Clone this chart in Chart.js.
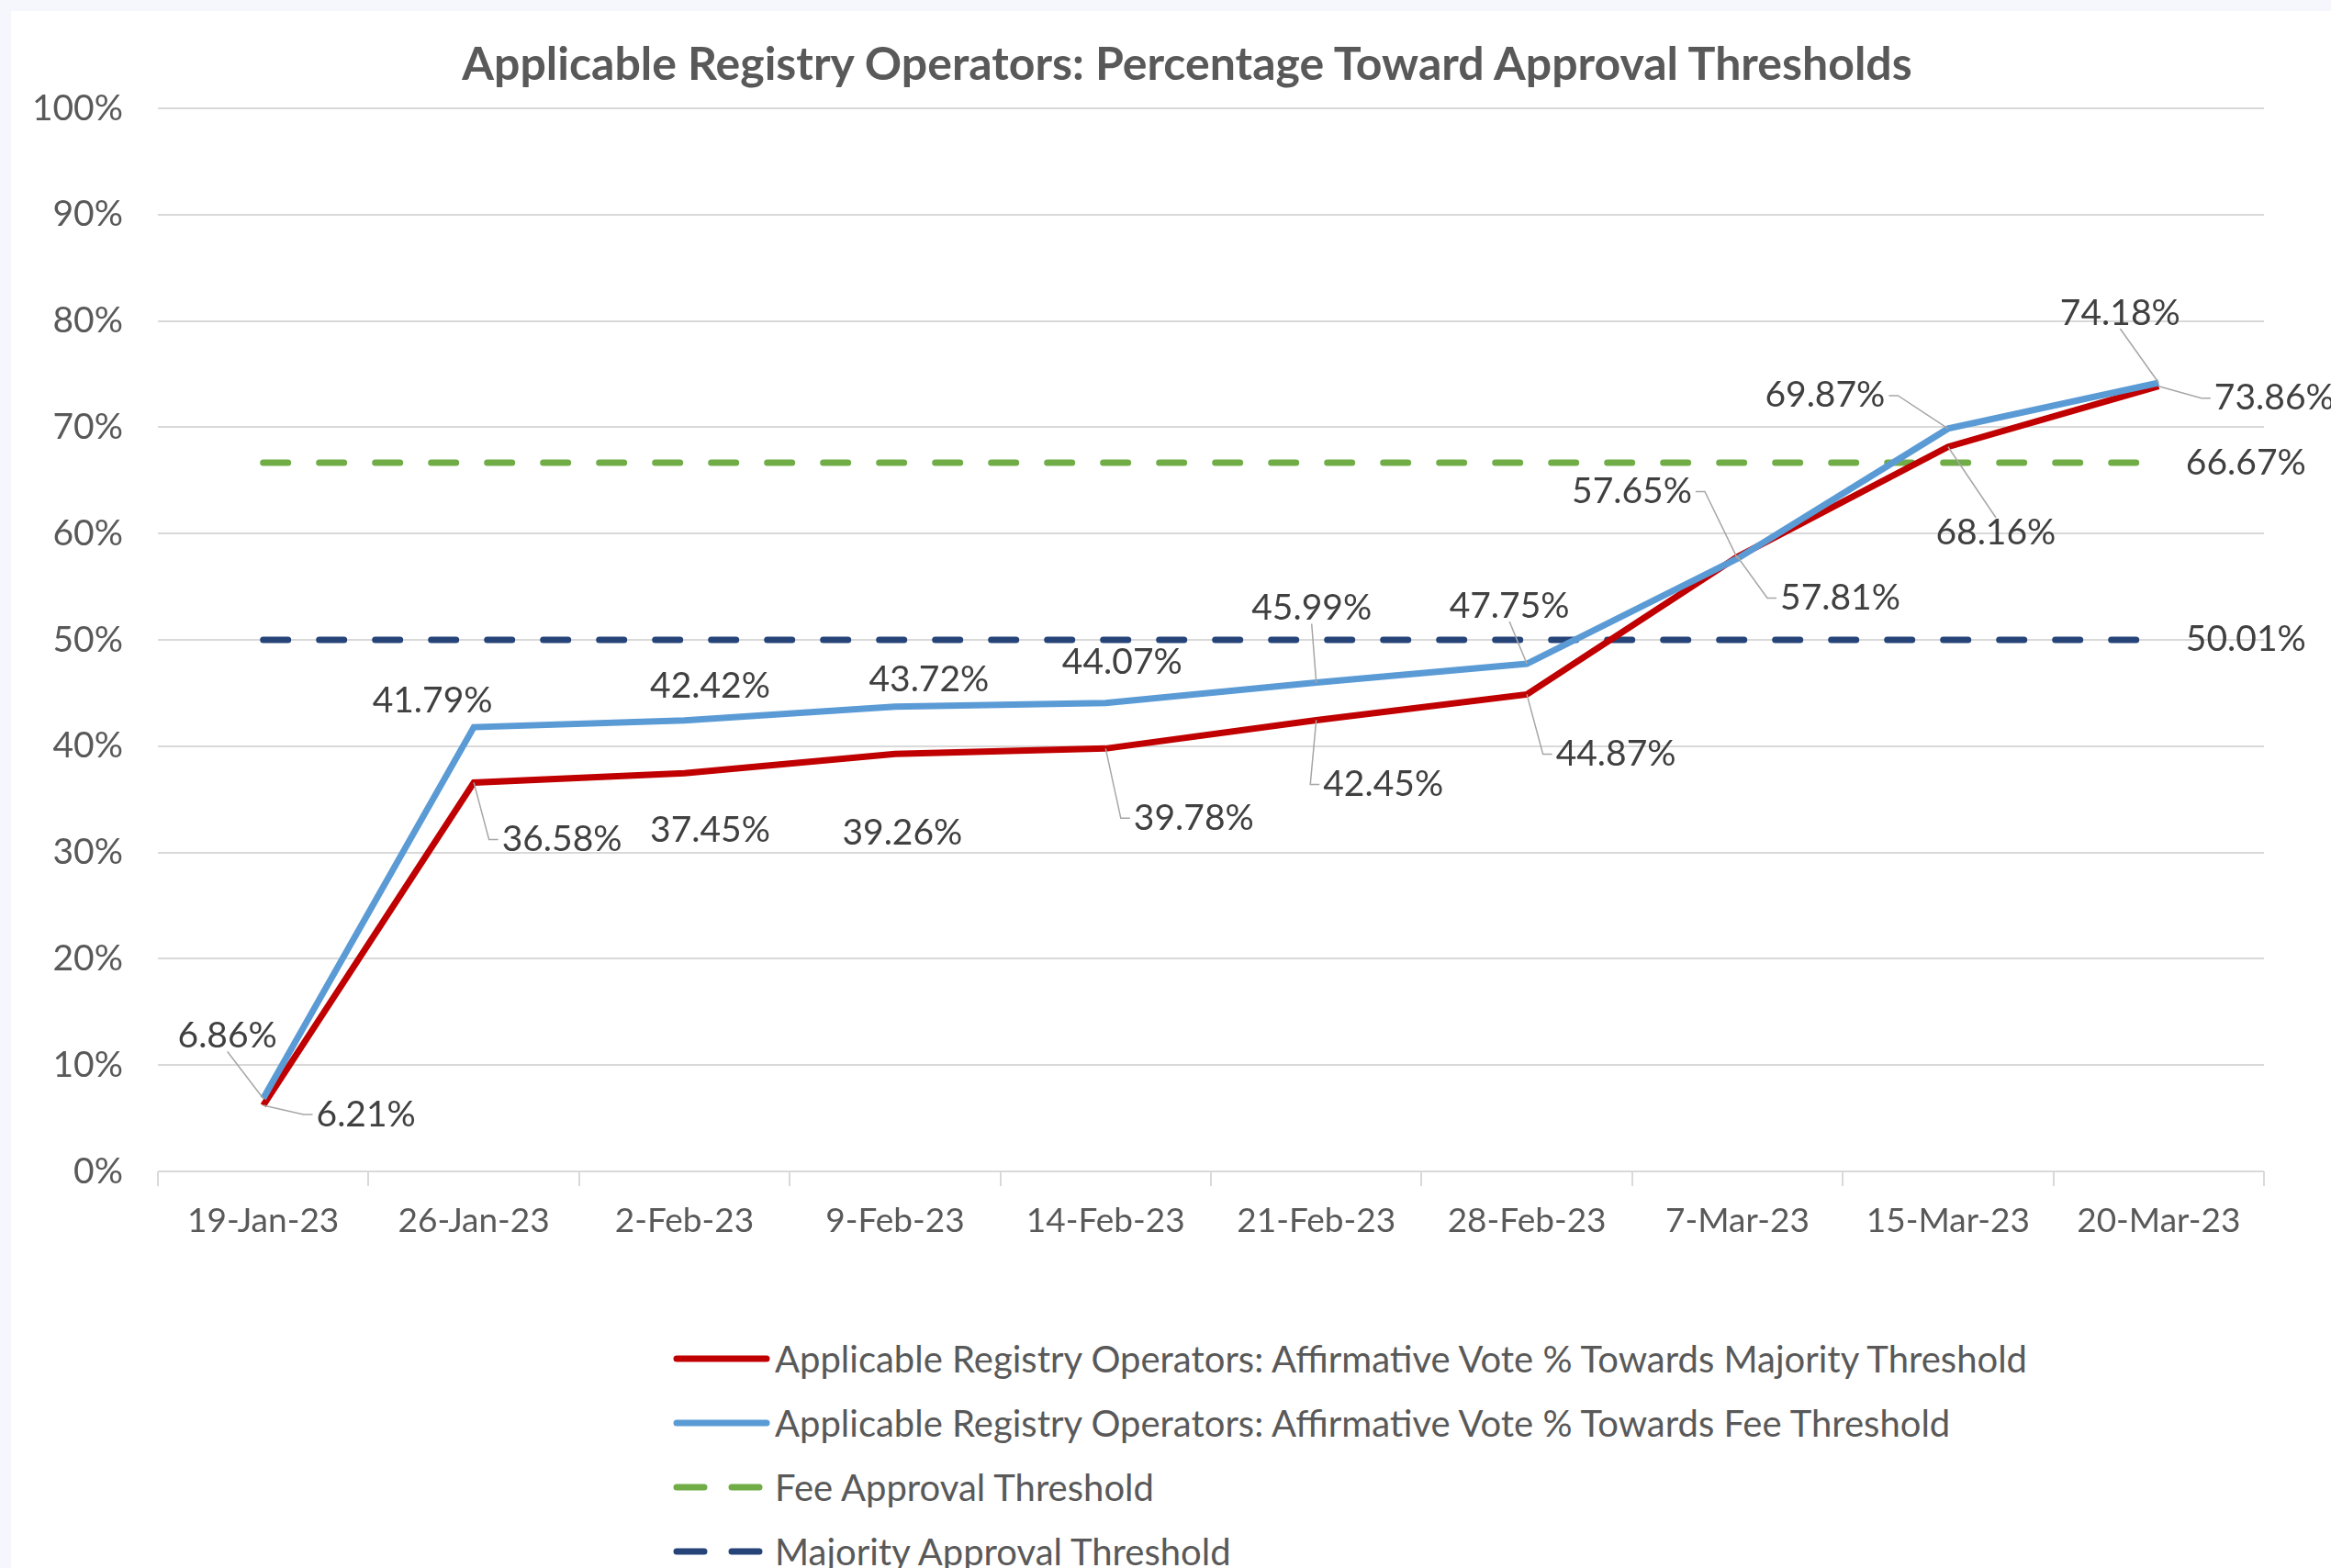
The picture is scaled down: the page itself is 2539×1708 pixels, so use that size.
<!DOCTYPE html>
<html>
<head>
<meta charset="utf-8">
<script src="https://cdn.jsdelivr.net/npm/chart.js@4.4.1/dist/chart.umd.min.js"></script>
<style>
  html, body { margin: 0; padding: 0; }
  body { width: 2539px; height: 1708px; background: #f5f7fc; position: relative; overflow: hidden; font-family: Lato, "Noto Sans", sans-serif; }
  #panel { position: absolute; left: 12px; top: 12px; right: 0; bottom: 0; background: #ffffff; }
  #chartBox { position: absolute; left: 0; top: 0; width: 2539px; height: 1400px; }
  #title { position: absolute; left: 293px; width: 2000px; top: 38px; text-align: center; font-weight: bold; font-size: 50px; line-height: 60px; color: #595959; }
  #legend { position: absolute; left: 733px; top: 1445px; }
  .legend-row { display: flex; align-items: center; height: 70px; font-size: 40px; color: #595959; }
  .legend-row svg { margin-right: 5px; }
</style>
</head>
<body>
<div id="panel"></div>
<div id="title">Applicable Registry Operators: Percentage Toward Approval Thresholds</div>
<div id="chartBox"><canvas id="grafico"></canvas></div>
<div id="legend"></div>
<script>
// categorias (datas das votações)
const datas = ["19-Jan-23", "26-Jan-23", "2-Feb-23", "9-Feb-23", "14-Feb-23", "21-Feb-23", "28-Feb-23", "7-Mar-23", "15-Mar-23", "20-Mar-23"];

// séries
const votoMaioria = [6.21, 36.58, 37.45, 39.26, 39.78, 42.45, 44.87, 57.81, 68.16, 73.86];
const votoTaxa = [6.86, 41.79, 42.42, 43.72, 44.07, 45.99, 47.75, 57.65, 69.87, 74.18];
const limiteTaxa = [66.67, 66.67, 66.67, 66.67, 66.67, 66.67, 66.67, 66.67, 66.67, 66.67];
const limiteMaioria = [50.01, 50.01, 50.01, 50.01, 50.01, 50.01, 50.01, 50.01, 50.01, 50.01];

// ticks do eixo Y
const yTicks = [0, 10, 20, 30, 40, 50, 60, 70, 80, 90, 100];

// posição dos rótulos em relação ao ponto: [dx, dy, linha guia]
const rotulosMaioria = [[112, 10, true], [96, 62, true], [28, 62, false], [8, 86, false], [96, 76, true], [73, 70, true], [97, 65, true], [112, 45, true], [52, 94, true], [126, 13, true]];
const rotulosTaxa = [[-39, -68, true], [-45, -29, false], [28, -37, false], [37, -29, false], [18, -44, false], [-5, -81, true], [-19, -63, true], [-115, -73, true], [-134, -36, true], [-42, -76, true]];
const rotulosLimite = [null, null, null, null, null, null, null, null, null, [95, 0, false]];

const FONTE = "Lato";

// desenha os rótulos de valor com linhas guia (estilo Excel)
const rotulosPlugin = {
  id: "rotulos",
  afterDatasetsDraw(chart) {
    const ctx = chart.ctx;
    ctx.save();
    ctx.font = "39px " + FONTE;
    ctx.textAlign = "center";
    ctx.textBaseline = "middle";
    chart.data.datasets.forEach((ds, di) => {
      const meta = chart.getDatasetMeta(di);
      if (!ds.rotulos) return;
      ds.rotulos.forEach((spot, i) => {
        if (!spot) return;
        const pt = meta.data[i];
        const txt = ds.data[i].toFixed(2) + "%";
        const cx = pt.x + spot[0];
        const cy = pt.y + spot[1];
        const w = ctx.measureText(txt).width;
        const h = 30;
        if (spot[2]) {
          const left = cx - w / 2, right = cx + w / 2;
          ctx.strokeStyle = "#a6a6a6";
          ctx.lineWidth = 1.5;
          ctx.beginPath();
          if (pt.x < left - 4) {
            ctx.moveTo(left - 4, cy);
            ctx.lineTo(left - 14, cy);
            ctx.lineTo(pt.x, pt.y);
          } else if (pt.x > right + 4) {
            ctx.moveTo(right + 4, cy);
            ctx.lineTo(right + 14, cy);
            ctx.lineTo(pt.x, pt.y);
          } else if (pt.y > cy) {
            ctx.moveTo(cx, cy + h / 2 + 2);
            ctx.lineTo(pt.x, pt.y);
          } else {
            ctx.moveTo(cx, cy - h / 2 - 2);
            ctx.lineTo(pt.x, pt.y);
          }
          ctx.stroke();
        }
        ctx.fillStyle = "#404040";
        ctx.fillText(txt, cx, cy);
      });
    });
    ctx.restore();
  },
};

const ctx = document.getElementById("grafico").getContext("2d");

const grafico = new Chart(ctx, {
  type: "line",
  data: {
    labels: datas,
    datasets: [
      {
        label: "Applicable Registry Operators: Affirmative Vote % Towards Majority Threshold",
        data: votoMaioria,
        borderColor: "#c00000",
        borderWidth: 7,
        pointRadius: 0,
        order: 2,
        rotulos: rotulosMaioria,
      },
      {
        label: "Applicable Registry Operators: Affirmative Vote % Towards Fee Threshold",
        data: votoTaxa,
        borderColor: "#5b9bd5",
        borderWidth: 7,
        pointRadius: 0,
        order: 1,
        rotulos: rotulosTaxa,
      },
      {
        label: "Fee Approval Threshold",
        data: limiteTaxa,
        borderColor: "#70ad47",
        borderWidth: 7,
        borderDash: [27, 34],
        borderCapStyle: "round",
        pointRadius: 0,
        order: 3,
        rotulos: rotulosLimite,
      },
      {
        label: "Majority Approval Threshold",
        data: limiteMaioria,
        borderColor: "#264478",
        borderWidth: 7,
        borderDash: [27, 34],
        borderCapStyle: "round",
        pointRadius: 0,
        order: 4,
        rotulos: rotulosLimite,
      },
    ],
  },
  options: {
    responsive: true,
    maintainAspectRatio: false,
    animation: false,
    layout: {
      padding: { top: 118, right: 73, left: 0, bottom: 0 },
    },
    scales: {
      x: {
        offset: true,
        grid: {
          offset: true,
          drawOnChartArea: false,
          drawTicks: true,
          tickLength: 16,
          color: "#d9d9d9",
          lineWidth: 2,
        },
        border: { display: false },
        ticks: {
          color: "#595959",
          padding: 16,
          font: { family: FONTE, size: 37 },
          maxRotation: 0,
        },
        afterFit(scale) {
          scale.height = 124;
        },
      },
      y: {
        min: 0,
        max: 100,
        afterBuildTicks(scale) {
          scale.ticks = yTicks.map((v) => ({ value: v }));
        },
        grid: {
          color: "#d9d9d9",
          lineWidth: 2,
          drawTicks: false,
        },
        border: { display: false },
        ticks: {
          color: "#595959",
          padding: 38,
          font: { family: FONTE, size: 39 },
          callback: (v) => v + "%",
        },
        afterFit(scale) {
          scale.width = 172;
        },
      },
    },
    plugins: {
      legend: { display: false },
      tooltip: { enabled: false },
      title: { display: false },
    },
  },
  plugins: [rotulosPlugin],
});

// legenda em HTML, empilhada como no original
const legenda = document.getElementById("legend");
grafico.data.datasets.forEach((ds) => {
  const row = document.createElement("div");
  row.className = "legend-row";
  const dash = ds.borderDash ? ' stroke-dasharray="30 30"' : "";
  row.innerHTML =
    '<svg width="106" height="12"><line x1="4" y1="6" x2="102" y2="6" stroke="' +
    ds.borderColor + '" stroke-width="7"' + dash + ' stroke-linecap="round"/></svg>' +
    "<span>" + ds.label + "</span>";
  legenda.appendChild(row);
});
</script>
</body>
</html>
